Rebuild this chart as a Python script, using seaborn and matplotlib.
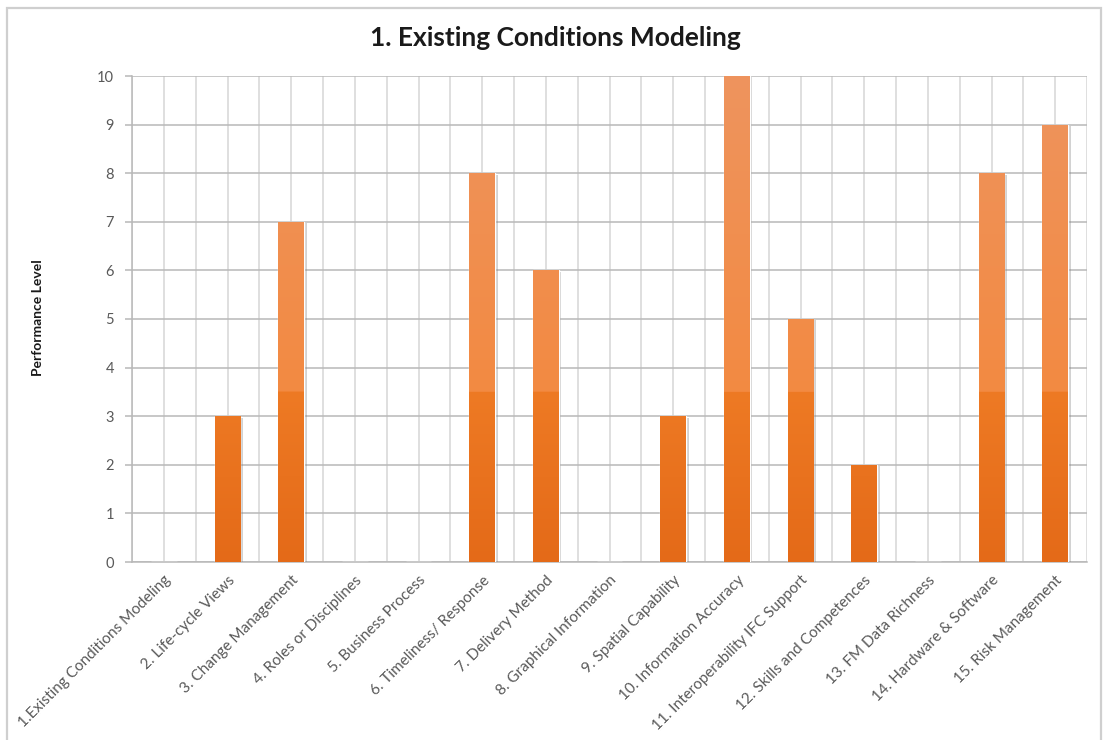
import numpy as np
import pandas as pd
import matplotlib
matplotlib.use("Agg")
import matplotlib.pyplot as plt
import matplotlib.patheffects as pe
from matplotlib.patches import Rectangle
from matplotlib.colors import to_rgb
import seaborn as sns

# Performance level per BIM capability area
categories = [
    "1.Existing Conditions Modeling",
    "2. Life-cycle Views",
    "3. Change Management",
    "4. Roles or Disciplines",
    "5. Business Process",
    "6. Timeliness/ Response",
    "7. Delivery Method",
    "8. Graphical Information",
    "9. Spatial Capability",
    "10. Information Accuracy",
    "11. Interoperability IFC Support",
    "12. Skills and Competences",
    "13. FM Data Richness",
    "14. Hardware & Software",
    "15. Risk Management",
]
levels = [0, 3, 7, 0, 0, 8, 6, 0, 3, 10, 5, 2, 0, 8, 9]
y_ticks = list(range(0, 11))

df = pd.DataFrame({"Category": categories, "Level": levels})

sns.set_theme(style="white")
plt.rcParams["font.family"] = ["Lato", "DejaVu Sans"]

fig = plt.figure(figsize=(11.04, 7.40), dpi=100)
fig.patch.set_facecolor("white")
ax = fig.add_axes([132 / 1104, 1 - 562 / 740, (1087 - 132) / 1104, (562 - 76) / 740])

sns.barplot(data=df, x="Category", y="Level", color="#F0832F", width=0.4,
            saturation=1, ax=ax, zorder=3)

ax.set_ylim(0, 10)
ax.set_xlim(-0.5, len(categories) - 0.5)
ax.set_yticks(y_ticks)
ax.set_yticklabels([str(t) for t in y_ticks], fontsize=10.5, color="#595959")
ax.set_xticks(range(len(categories)))
ax.set_xticklabels(categories, rotation=45, ha="right", rotation_mode="anchor",
                   fontsize=11, color="#595959")
ax.set_xticks(np.arange(-0.5, len(categories), 1.0), minor=True)
ax.tick_params(axis="x", which="both", length=0, pad=8)
ax.tick_params(axis="y", which="major", length=5, width=1.1, color="#B8B8B8",
               direction="out", left=True, pad=8)

# grid: horizontal at each level, vertical at category centres and edges
ax.set_axisbelow(True)
ax.yaxis.grid(True, color="#B8B8B8", linewidth=1.1)
ax.xaxis.grid(True, which="major", color="#D6D6D6", linewidth=1.1)
ax.xaxis.grid(True, which="minor", color="#D6D6D6", linewidth=1.1)
for side in ["top", "right"]:
    ax.spines[side].set_visible(False)
for side in ["bottom", "left"]:
    ax.spines[side].set_visible(True)
    ax.spines[side].set_color("#B8B8B8")
    ax.spines[side].set_linewidth(1.1)

ax.set_xlabel("")
ax.set_ylabel("")

# vertical colour ramp in data space, lighter above the mid band
vals = np.linspace(0, 10, 600)
c_bot = np.array(to_rgb("#E46A18"))
c_midlo = np.array(to_rgb("#EE7A24"))
c_midhi = np.array(to_rgb("#F38A42"))
c_top = np.array(to_rgb("#EE945E"))
ramp = np.zeros((len(vals), 3))
for i, v in enumerate(vals):
    if v < 3.5:
        t = v / 3.5
        ramp[i] = c_bot * (1 - t) + c_midlo * t
    else:
        t = (v - 3.5) / 6.5
        ramp[i] = c_midhi * (1 - t) + c_top * t
img = ramp[:, None, :]

for patch in ax.patches:
    h = patch.get_height()
    if h <= 0:
        continue
    patch.set_path_effects([pe.SimplePatchShadow(offset=(2, -1), shadow_rgbFace="#808080", alpha=0.35),
                            pe.Normal()])
    x0 = patch.get_x()
    w = patch.get_width()
    im = ax.imshow(img, extent=(x0, x0 + w, 0, 10), origin="lower",
                   aspect="auto", zorder=4, interpolation="bilinear")
    im.set_clip_path(patch)

ax.set_xlim(-0.5, len(categories) - 0.5)
ax.set_ylim(0, 10)

fig.text(555 / 1104, 1 - 38 / 740, "1. Existing Conditions Modeling",
         ha="center", va="center", fontsize=19, fontweight="bold", color="#1A1A1A")
fig.text(38 / 1104, 1 - 318 / 740, "Performance Level", rotation=90,
         ha="center", va="center", fontsize=10, fontweight="bold", color="#1A1A1A")

# outer chart frame
fig.patches.append(Rectangle((7 / 1104, -0.05), (1101 - 7) / 1104, 1.05 - 8 / 740,
                             transform=fig.transFigure, fill=False,
                             edgecolor="#CFCFCF", linewidth=1.6, zorder=0))

fig.savefig("out.png", dpi=100)
